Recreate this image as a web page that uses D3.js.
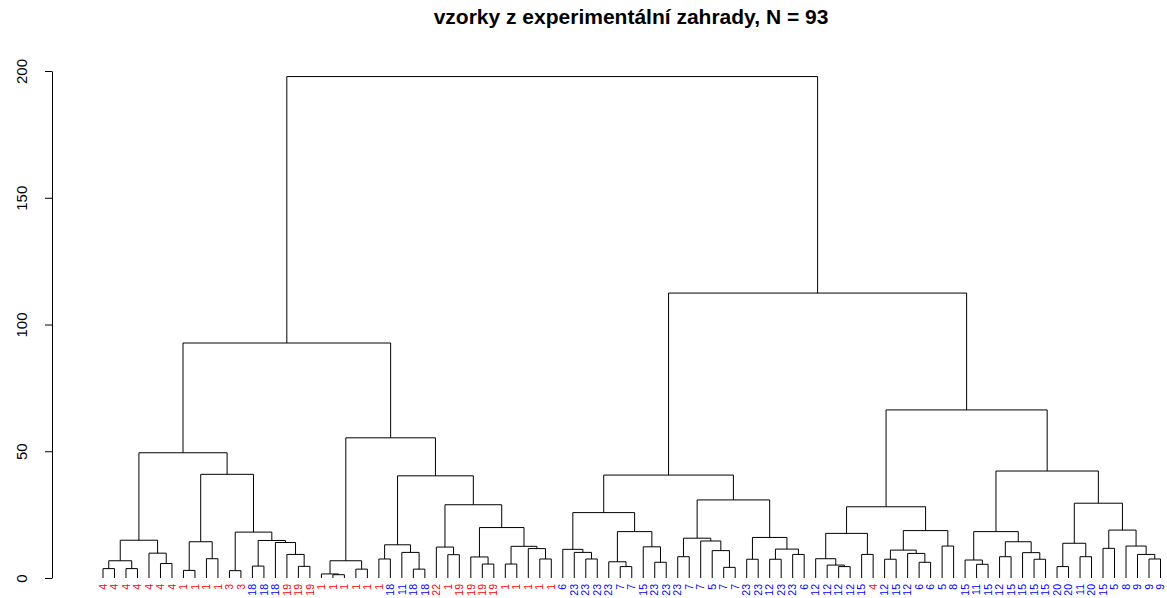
<!DOCTYPE html>
<html>
<head>
<meta charset="utf-8">
<script src="https://cdn.jsdelivr.net/npm/d3@7"></script>
<style>
  body { margin: 0; background: #fff; }
  svg { display: block; font-family: "Liberation Sans", Arial, sans-serif; }
</style>
</head>
<body>
<svg id="chart" width="1167" height="598"></svg>
<script>
// Hierarchical clustering of garden samples: leaf labels in plot order,
// merge steps (negative = leaf number, positive = earlier merge number) and merge heights.
const chartTitle = "vzorky z experimentální zahrady, N = 93";

const leafLabels = [
  "4","4","4","4","4","4","4","1","1","1","1","3","3","18","18","18","19","19","19",
  "1","1","1","1","1","1","18","11","18","18","22","1","19","19","19","19","1","1","1","1","1",
  "6","23","23","23","23","7","7","15","23","23","23","7","7","5","7","7","23","23","12","23","23","6",
  "12","12","12","12","15","4","12","15","12","6","6","5","8",
  "15","11","15","12","15","15","15","15","20","20","11","20","15","5","8","9","9","9"
];

// label groups drawn in red; all others in blue
const redGroups = ["1","3","4","19","22"];

const merges = [
  [-1,-2],[-3,-4],[1,2],[-6,-7],[-5,4],[3,5],
  [-8,-9],[-10,-11],[7,8],[-12,-13],[-14,-15],[-18,-19],
  [-17,12],[-16,13],[11,14],[10,15],[9,16],[6,17],
  [-21,-22],[-20,19],[-23,-24],[20,21],[-25,-26],[-28,-29],
  [-27,24],[23,25],[-31,-32],[-30,27],[-34,-35],[-33,29],
  [-36,-37],[-39,-40],[-38,32],[31,33],[30,34],[28,35],
  [26,36],[22,37],[18,38],
  [-43,-44],[-42,40],[-41,41],[-46,-47],[-45,43],[-49,-50],
  [-48,45],[44,46],[42,47],[-51,-52],[-55,-56],[-54,50],
  [-53,51],[49,52],[-57,-58],[-59,-60],[-61,-62],[55,56],
  [54,57],[53,58],[48,59],
  [-65,-66],[-64,61],[-63,62],[-67,-68],[63,64],[-69,-70],
  [-72,-73],[-71,67],[66,68],[-74,-75],[69,70],[65,71],
  [-77,-78],[-76,73],[-79,-80],[-82,-83],[-81,76],[75,77],
  [74,78],[-84,-85],[-86,-87],[80,81],[-88,-89],[-92,-93],
  [-91,84],[-90,85],[83,86],[82,87],[79,88],[72,89],
  [60,90],[39,91]
];

const mergeHeights = [
  3.7, 3.7, 6.8, 5.7, 9.8, 14.9,
  3.0, 7.6, 14.3, 2.9, 4.7, 4.6,
  9.3, 14.0, 14.8, 18.1, 40.9, 49.4,
  1.3, 1.6, 3.5, 6.8, 7.5, 3.5,
  10.1, 13.1, 9.2, 12.2, 5.5, 8.3,
  5.5, 7.5, 11.6, 12.5, 19.9, 28.9,
  40.3, 55.3, 92.7,
  7.5, 10.1, 11.3, 4.5, 6.4, 6.2,
  12.3, 18.3, 25.8, 8.4, 4.2, 10.8,
  14.6, 15.7, 7.4, 7.4, 9.3, 11.4,
  16.0, 30.8, 40.6,
  4.5, 5.1, 7.6, 9.3, 17.6, 7.4,
  6.2, 9.7, 11.0, 12.6, 18.7, 28.1,
  5.4, 7.1, 8.4, 7.4, 10.0, 14.3,
  18.3, 4.5, 8.4, 13.7, 11.7, 7.5,
  9.3, 12.6, 18.9, 29.5, 42.2, 66.3,
  112.4, 197.8
];

const yTicks = [0, 50, 100, 150, 200];

const svg = d3.select("#chart");

const x = d3.scalePoint()
  .domain(d3.range(leafLabels.length))
  .range([103, 1160.5]);

const y = d3.scaleLinear()
  .domain([0, 200])
  .range([578, 71]);

// Walk the merges, placing each internal node at the midpoint of its two children
const nodeX = [];
function childPos(ref) {
  return ref < 0
    ? { x: x(-ref - 1), h: 0 }
    : { x: nodeX[ref - 1], h: mergeHeights[ref - 1] };
}

const links = merges.map(([a, b], i) => {
  const pa = childPos(a), pb = childPos(b), h = mergeHeights[i];
  nodeX[i] = (pa.x + pb.x) / 2;
  const p = d3.path();
  p.moveTo(pa.x, y(pa.h));
  p.lineTo(pa.x, y(h));
  p.lineTo(pb.x, y(h));
  p.lineTo(pb.x, y(pb.h));
  return p.toString();
});

svg.append("g")
  .attr("fill", "none")
  .attr("stroke", "#000")
  .attr("stroke-width", 1)
  .selectAll("path")
  .data(links)
  .join("path")
  .attr("d", d => d);

// Leaf labels, rotated to read upwards, hanging below the baseline
svg.append("g")
  .attr("font-size", 10.5)
  .selectAll("text")
  .data(leafLabels)
  .join("text")
  .attr("transform", "rotate(-90)")
  .attr("x", -584)
  .attr("y", (d, i) => x(i))
  .attr("dy", "0.35em")
  .attr("text-anchor", "end")
  .attr("fill", d => redGroups.includes(d) ? "#ff0000" : "#0000ff")
  .text(d => d);

// Height axis
const axis = d3.axisLeft(y).tickValues(yTicks).tickSizeInner(7).tickSizeOuter(0);
const gAxis = svg.append("g")
  .attr("transform", "translate(52,0)")
  .call(axis);
gAxis.select(".domain").attr("stroke", "#000");
gAxis.selectAll(".tick line").attr("stroke", "#000");
gAxis.selectAll(".tick text")
  .attr("font-size", 15)
  .attr("font-family", "Liberation Sans, Arial, sans-serif")
  .attr("fill", "#000")
  .attr("transform", "rotate(-90)")
  .attr("x", 0)
  .attr("y", -30)
  .attr("dy", "0.35em")
  .attr("text-anchor", "middle");

// Title
svg.append("text")
  .attr("x", 631)
  .attr("y", 24)
  .attr("text-anchor", "middle")
  .attr("font-weight", "bold")
  .attr("font-size", 21)
  .attr("fill", "#000")
  .text(chartTitle);
</script>
</body>
</html>
